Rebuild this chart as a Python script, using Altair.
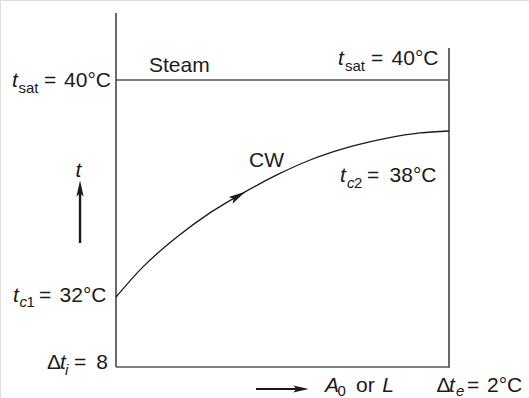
import altair as alt
import pandas as pd

# Diagram coordinates: x = fraction of exchanger length (A0 or L), y = temperature in °C
t_sat = 40.0
t_c1 = 32.0
t_c2 = 38.0

# Cooling-water temperature profile
cw_x = [0.0, 0.081, 0.183, 0.282, 0.381, 0.483, 0.583, 0.712, 0.814, 0.913, 1.0]
cw_t = [32.0, 33.11, 34.21, 35.10, 35.83, 36.50, 37.05, 37.57, 37.86, 38.05, 38.12]

# Frame of the diagram
axis_bottom = 29.42
left_top = 42.47
right_top = 41.18

# Text pieces (rich text split into runs)
lab_text = ["t", "sat", "=", "40°C",
            "Steam",
            "t", "sat", "=", "40°C",
            "CW",
            "t", "c", "2", "=", "38°C",
            "t",
            "t", "c", "1", "=", "32°C",
            "Δ", "t", "i", "=", "8",
            "A", "0", "or", "L",
            "Δ", "t", "e", "=", "2°C"]
lab_x = [-0.3123, -0.2928, -0.2162, -0.0150,
         0.0991,
         0.6667, 0.6877, 0.7658, 0.9685,
         0.3994,
         0.6727, 0.6937, 0.7147, 0.7538, 0.9625,
         -0.1126,
         -0.3093, -0.2898, -0.2688, -0.2312, -0.0285,
         -0.2072, -0.1682, -0.1532, -0.1261, -0.0240,
         0.6276, 0.6652, 0.7207, 0.8348,
         0.9625, 1.0000, 1.0210, 1.0541, 1.1141]
lab_y = [39.742, 39.521, 39.742, 39.742,
         40.295,
         40.553, 40.332, 40.553, 40.553,
         36.793,
         36.240, 36.018, 36.018, 36.240, 36.240,
         36.424,
         31.816, 31.631, 31.631, 31.816, 31.816,
         29.346, 29.346, 29.124, 29.346, 29.346,
         28.498, 28.350, 28.498, 28.498,
         28.498, 28.498, 28.350, 28.498, 28.498]
lab_size = [21, 15, 21, 21,
            21,
            21, 15, 21, 21,
            21,
            21, 15, 15, 21, 21,
            21,
            21, 15, 15, 21, 21,
            21, 21, 15, 21, 21,
            21, 15, 21, 21,
            21, 21, 15, 21, 21]
lab_style = ["italic", "normal", "normal", "normal",
             "normal",
             "italic", "normal", "normal", "normal",
             "normal",
             "italic", "italic", "normal", "normal", "normal",
             "italic",
             "italic", "italic", "normal", "normal", "normal",
             "normal", "italic", "italic", "normal", "normal",
             "italic", "normal", "normal", "italic",
             "normal", "italic", "italic", "normal", "normal"]
lab_align = ["left", "left", "left", "right",
             "left",
             "left", "left", "left", "right",
             "left",
             "left", "left", "left", "left", "right",
             "center",
             "left", "left", "left", "left", "right",
             "left", "left", "left", "left", "right",
             "left", "left", "left", "right",
             "left", "left", "left", "left", "left"]

# Direction arrows (t axis arrow, length arrow, flow arrow on the curve)
t_arrow_x = -0.108
t_arrow_y = [33.99, 35.87]
t_head = 36.0
len_arrow_y = 28.608
len_arrow_x = [0.4204, 0.5526]
len_head_x = 0.5556
flow_head_x = 0.3664
flow_head_t = 35.72

XS = alt.Scale(domain=[0, 1], range=[116, 449], nice=False, zero=False)
YS = alt.Scale(domain=[32, 40], range=[297, 80], nice=False, zero=False)
FONT = "Liberation Sans"
INK = "#1a1a1a"

curve_df = pd.DataFrame({"x": cw_x, "t": cw_t})
vert_df = pd.DataFrame({"x": [0.0, 1.0], "y": [left_top, right_top], "y2": [axis_bottom, axis_bottom],
                        "c": ["#5a5a5a", "#2a2a2a"], "w": [1.8, 1.4]})
horiz_df = pd.DataFrame({"y": [axis_bottom, t_sat], "x": [0.0, 0.0], "x2": [1.003, 1.0]})
labels = pd.DataFrame({"text": lab_text, "x": lab_x, "y": lab_y, "size": lab_size,
                       "style": lab_style, "align": lab_align})
tline_df = pd.DataFrame({"x": [t_arrow_x], "y": [t_arrow_y[0]], "y2": [t_arrow_y[1]]})
lline_df = pd.DataFrame({"y": [len_arrow_y], "x": [len_arrow_x[0]], "x2": [len_arrow_x[1]]})
heads_df = pd.DataFrame({"x": [t_arrow_x, len_head_x, flow_head_x],
                         "y": [t_head, len_arrow_y, flow_head_t],
                         "a": [0, 90, 60], "s": [256, 240, 290]})

X = lambda f="x": alt.X(f"{f}:Q", scale=XS, axis=None)
Y = lambda f="y": alt.Y(f"{f}:Q", scale=YS, axis=None)

vert = alt.Chart(vert_df).mark_rule().encode(
    x=X(), y=Y(), y2="y2:Q",
    color=alt.Color("c:N", scale=None), strokeWidth=alt.StrokeWidth("w:Q", scale=None))
horiz = alt.Chart(horiz_df).mark_rule(color="#555555", strokeWidth=1.6).encode(
    y=Y(), x=X(), x2="x2:Q")
curve = alt.Chart(curve_df).mark_line(color=INK, strokeWidth=1.3, interpolate="monotone").encode(
    x=X(), y=Y("t"))
tline = alt.Chart(tline_df).mark_rule(color=INK, strokeWidth=2.4).encode(x=X(), y=Y(), y2="y2:Q")
lline = alt.Chart(lline_df).mark_rule(color=INK, strokeWidth=2.0).encode(y=Y(), x=X(), x2="x2:Q")
heads = alt.Chart(heads_df).mark_point(
    shape="M0,-1L0.45,1L0,0.6L-0.45,1Z", filled=True, color=INK, opacity=1, strokeWidth=0
).encode(x=X(), y=Y(), angle=alt.Angle("a:Q", scale=None), size=alt.Size("s:Q", scale=None))

text_layers = []
for style in ["normal", "italic"]:
    for align in ["left", "right", "center"]:
        sub = labels[(labels["style"] == style) & (labels["align"] == align)]
        if len(sub) == 0:
            continue
        text_layers.append(
            alt.Chart(sub).mark_text(align=align, baseline="alphabetic", font=FONT,
                                     fontStyle=style, color=INK).encode(
                x=X(), y=Y(), text="text:N", size=alt.Size("size:Q", scale=None))
        )

chart = alt.layer(vert, horiz, curve, tline, lline, heads, *text_layers).properties(
    width=529, height=398,
    autosize=alt.AutoSizeParams(type="none"),
    padding=0,
).configure_view(stroke=None).configure(background="white")

chart.save("out.html", embed_options={"renderer": "svg", "actions": False})
